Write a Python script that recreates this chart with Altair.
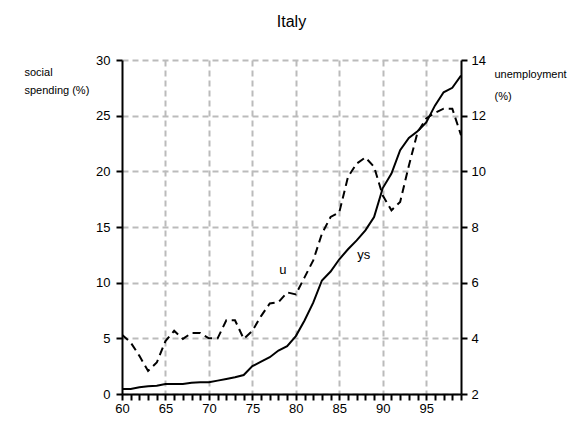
import altair as alt
import pandas as pd

years = list(range(60, 100))
ys = [0.45, 0.45, 0.6, 0.7, 0.75, 0.9, 0.9, 0.9, 1.0, 1.05,
      1.05, 1.2, 1.35, 1.5, 1.7, 2.5, 2.9, 3.3, 3.9, 4.3,
      5.2, 6.6, 8.2, 10.2, 11.0, 12.1, 13.0, 13.8, 14.7, 15.9,
      18.5, 19.8, 21.9, 23.0, 23.6, 24.4, 25.9, 27.1, 27.5, 28.6]
u = [4.13, 3.85, 3.37, 2.83, 3.13, 3.9, 4.27, 3.98, 4.19, 4.19,
     4.0, 4.0, 4.65, 4.65, 3.98, 4.27, 4.8, 5.25, 5.3, 5.65,
     5.58, 6.19, 6.8, 7.76, 8.36, 8.53, 9.8, 10.28, 10.5, 10.16,
     9.13, 8.6, 8.9, 10.2, 11.4, 11.9, 12.1, 12.25, 12.25, 11.3]

label_text = ["u", "ys"]
label_year = [78.5, 87.8]
label_value = [11.1, 12.5]

df = pd.DataFrame({"year": years, "ys": ys, "u": u})
lab = pd.DataFrame({"t": label_text, "year": label_year, "v": label_value})

FONT = "Liberation Sans"

xscale = alt.Scale(domain=[60, 99], nice=False, zero=False)


def make_xaxis():
    return alt.Axis(
        values=years,
        labelExpr="datum.value % 5 == 0 ? datum.value : ''",
        labelOverlap=False,
        title=None,
        grid=True,
        gridOpacity={"condition": {"test": "datum.value % 5 == 0 && datum.value > 60", "value": 1}, "value": 0},
        gridColor="#bbbbbb", gridDash=[6, 4], gridWidth=2,
        domainColor="black", domainWidth=2,
        tickColor="black", tickWidth=2, tickSize=6,
        labelFont=FONT, labelFontSize=13, labelColor="black", labelPadding=2,
        labelFlush=False,
    )


left_axis = alt.Axis(
    values=[0, 5, 10, 15, 20, 25, 30],
    title=["social", "spending (%)"],
    titleAngle=0, titleAlign="left", titleBaseline="top",
    titleX=-98, titleY=6,
    titleFont=FONT, titleFontSize=11, titleFontWeight="normal", titleColor="black",
    titleLineHeight=18,
    grid=True, gridColor="#bbbbbb", gridDash=[6, 4], gridWidth=2,
    domainColor="black", domainWidth=2,
    tickColor="black", tickWidth=2, tickSize=6,
    labelFont=FONT, labelFontSize=13, labelColor="black", labelPadding=6,
)

right_axis = alt.Axis(
    values=[2, 4, 6, 8, 10, 12, 14],
    orient="right",
    title=["unemployment", "(%)"],
    titleAngle=0, titleAlign="left", titleBaseline="top",
    titleX=33, titleY=8,
    titleFont=FONT, titleFontSize=11, titleFontWeight="normal", titleColor="black",
    titleLineHeight=22,
    grid=False,
    domainColor="black", domainWidth=2,
    tickColor="black", tickWidth=2, tickSize=6,
    labelFont=FONT, labelFontSize=13, labelColor="black", labelPadding=4,
)

base = alt.Chart(df)
lscale = alt.Scale(domain=[0, 30], nice=False, zero=False)

line_ys = base.mark_line(color="black", strokeWidth=2, clip=True).encode(
    x=alt.X("year:Q", scale=xscale, axis=make_xaxis()),
    y=alt.Y("ys:Q", scale=lscale, axis=left_axis),
)

texts = alt.Chart(lab).mark_text(font=FONT, fontSize=13, color="black").encode(
    x=alt.X("year:Q", scale=xscale, axis=make_xaxis()),
    y=alt.Y("v:Q", scale=lscale, axis=left_axis),
    text="t:N",
)

line_u = base.mark_line(color="black", strokeWidth=2, strokeDash=[8, 5], clip=True).encode(
    x=alt.X("year:Q", scale=xscale, axis=make_xaxis()),
    y=alt.Y("u:Q", scale=alt.Scale(domain=[2, 14], nice=False, zero=False), axis=right_axis),
)

left = alt.layer(line_ys, texts)

chart = alt.layer(left, line_u).resolve_scale(y="independent").properties(
    width=339, height=334,
    autosize=alt.AutoSizeParams(type="none"),
    padding={"left": 114, "top": 52, "right": 113, "bottom": 37},
    title=alt.TitleParams("Italy", font=FONT, fontSize=16, fontWeight="normal",
                          color="black", offset=24, anchor="middle"),
).configure_view(stroke=None)

chart.save("out.html", embed_options={"renderer": "svg", "actions": False})
